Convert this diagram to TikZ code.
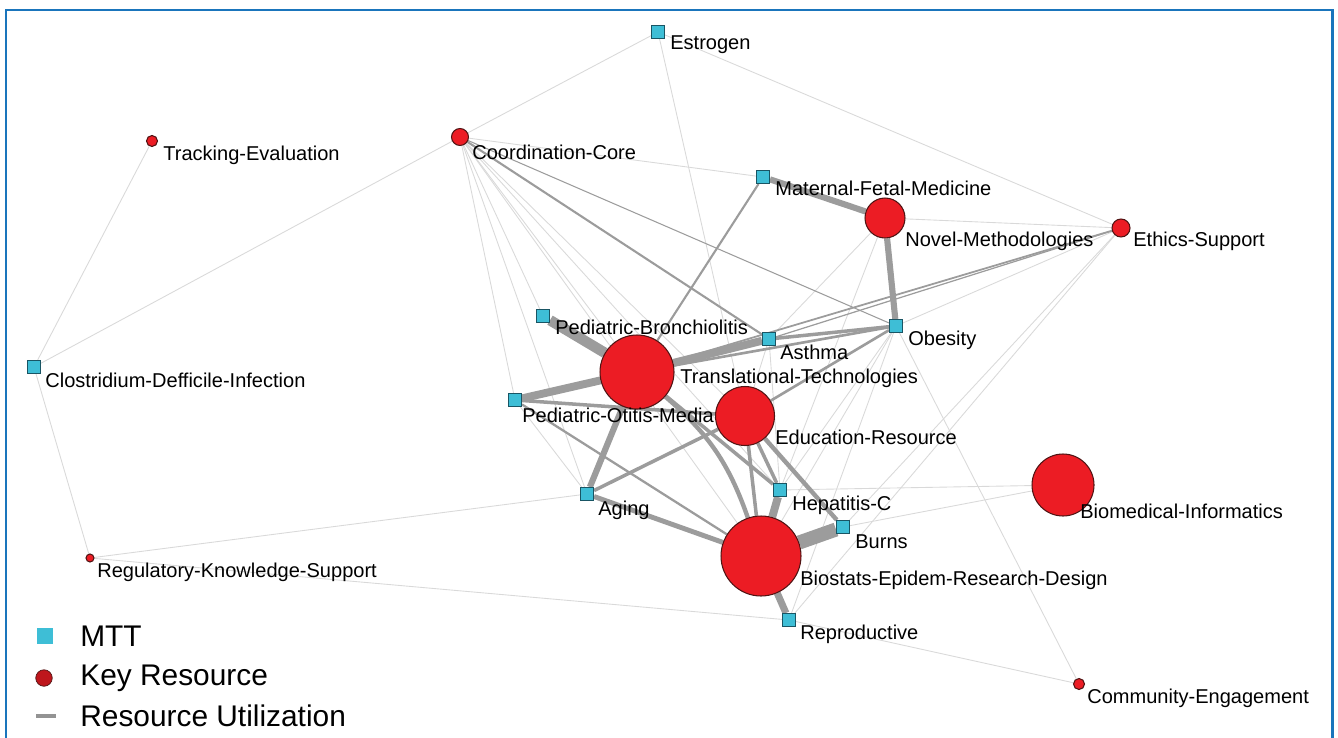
\documentclass[tikz,border=0pt]{standalone}
\usepackage{fontspec}
\setmainfont{Liberation Sans}
\usetikzlibrary{positioning, backgrounds}
\definecolor{mttblue}{RGB}{62,190,214}
\definecolor{mttedge}{RGB}{25,85,100}
\definecolor{kred}{RGB}{236,28,36}
\definecolor{kedge}{RGB}{80,20,20}
\definecolor{legred}{RGB}{190,22,28}
\definecolor{frameblue}{RGB}{26,117,188}
\tikzset{
x=0.02cm, y=-0.02cm, % one unit is one pixel of the layout
mtt/.style={rectangle, draw=mttedge, fill=mttblue, minimum size=0.26cm, inner sep=0pt, line width=0.6pt}, % MTT squares
kres/.style={circle, draw=kedge, fill=kred, minimum size=#1, inner sep=0pt, line width=0.6pt}, % key resources
lbl/.style={anchor=west, inner sep=0pt, font=\fontsize{11.4}{13}\selectfont, text=black},
leg/.style={anchor=west, inner sep=0pt, font=\fontsize{17}{19}\selectfont, text=black},
faint/.style={draw=gray!30, line width=0.5pt}, % weak utilization
util/.style={draw=gray!78, line width=#1}, % weighted utilization
}

\begin{document}
\begin{tikzpicture}
    \useasboundingbox (0,0) rectangle (1338,737);
    \draw[frameblue, line width=1.7pt] (6,745) -- (6,10) -- (1332,10) -- (1332,745);

    % MTTs
    \node[mtt] (est) at (658,32) {};
    \node[mtt] (mfm) at (763,177) {};
    \node[mtt] (clo) at (34,367) {};
    \node[mtt] (pbr) at (543,316) {};
    \node[mtt] (ast) at (769,339) {};
    \node[mtt] (obe) at (896,326) {};
    \node[mtt] (pom) at (515,400) {};
    \node[mtt] (hep) at (780,490) {};
    \node[mtt] (aging) at (587,494) {};
    \node[mtt] (burns) at (843,527) {};
    \node[mtt] (rep) at (789,620) {};

    % key resources
    \node[kres=0.22cm] (trk) at (152,141) {};
    \node[kres=0.34cm] (cc) at (460,137) {};
    \node[kres=0.8cm] (nov) at (885,218) {};
    \node[kres=0.36cm] (eth) at (1121,228) {};
    \node[kres=1.48cm] (tt) at (637,372) {};
    \node[kres=1.18cm] (edu) at (745,416) {};
    \node[kres=1.24cm] (bmi) at (1063,485) {};
    \node[kres=1.6cm] (bio) at (761,556) {};
    \node[kres=0.16cm] (reg) at (90,558) {};
    \node[kres=0.22cm] (com) at (1079,684) {};

    % labels
    \node[lbl] (est-l) at (670,45) {Estrogen};
    \node[lbl] (trk-l) at (163,155) {Tracking-Evaluation};
    \node[lbl] (cc-l) at (472,152) {Coordination-Core};
    \node[lbl] (mfm-l) at (775,188) {Maternal-Fetal-Medicine};
    \node[lbl] (nov-l) at (905,241) {Novel-Methodologies};
    \node[lbl] (eth-l) at (1133,241) {Ethics-Support};
    \node[lbl] (clo-l) at (45,380) {Clostridium-Defficile-Infection};
    \node[lbl] (pbr-l) at (555,327) {Pediatric-Bronchiolitis};
    \node[lbl] (ast-l) at (780,352) {Asthma};
    \node[lbl] (obe-l) at (908,340) {Obesity};
    \node[lbl] (tt-l) at (680,378) {Translational-Technologies};
    \node[lbl] (pom-l) at (522,415) {Pediatric-Otitis-Media};
    \node[lbl] (edu-l) at (775,437) {Education-Resource};
    \node[lbl] (hep-l) at (792,505) {Hepatitis-C};
    \node[lbl] (aging-l) at (598,510) {Aging};
    \node[lbl] (burns-l) at (855,542) {Burns};
    \node[lbl] (bmi-l) at (1080,511) {Biomedical-Informatics};
    \node[lbl] (bio-l) at (800,580) {Biostats-Epidem-Research-Design};
    \node[lbl] (reg-l) at (97,572) {Regulatory-Knowledge-Support};
    \node[lbl] (rep-l) at (800,634) {Reproductive};
    \node[lbl] (com-l) at (1087,698) {Community-Engagement};

    % links
    \begin{scope}[on background layer]
    \foreach \a/\b in {cc/clo, cc/est, cc/mfm, cc/pbr, cc/pom, cc/aging, cc/tt, cc/edu, cc/hep, cc/bio,
        est/eth, est/edu, clo/trk, clo/reg, reg/aging, reg/rep, rep/com, obe/com,
        eth/nov, eth/obe, eth/burns, eth/rep, nov/ast, nov/hep, obe/hep, obe/bio, obe/rep,
        bmi/hep, bmi/burns, ast/edu, ast/hep, pom/aging}
      \draw[faint] (\a) -- (\b);
    \foreach \a/\b/\w in {pbr/tt/6, tt/ast/4.5, tt/pom/4.5, bio/burns/8, bio/hep/4.5, bio/rep/4,
        mfm/nov/3.5, nov/obe/3.5, tt/aging/3.5, aging/bio/2.8, aging/edu/2, pom/edu/2,
        pom/bio/1.3, edu/burns/2.5, edu/hep/2, edu/bio/2, tt/hep/2, ast/obe/2,
        tt/obe/1.5, obe/edu/1.5, cc/ast/1.2, mfm/tt/1.2, eth/tt/1, eth/ast/0.7, cc/obe/0.6}
      \draw[util=\w pt] (\a) -- (\b);
    \draw[util=2.5pt] (tt) to[bend left=15] (bio);
    \end{scope}

    % legend
    \node[rectangle, fill=mttblue, minimum size=0.33cm, inner sep=0pt] (leg-m) at (45,636) {};
    \node[leg] (leg-mt) at (80,636) {MTT};
    \node[circle, fill=legred, draw=kedge, minimum size=0.33cm, inner sep=0pt] (leg-k) at (44,678) {};
    \node[leg] (leg-kt) at (80,678) {Key Resource};
    \coordinate (leg-ua) at (36,716);
    \coordinate (leg-ub) at (56,716);
    \draw[gray!85, line width=1.8pt] (leg-ua) -- (leg-ub);
    \node[leg] (leg-ut) at (80,716) {Resource Utilization};
\end{tikzpicture}
\end{document}
